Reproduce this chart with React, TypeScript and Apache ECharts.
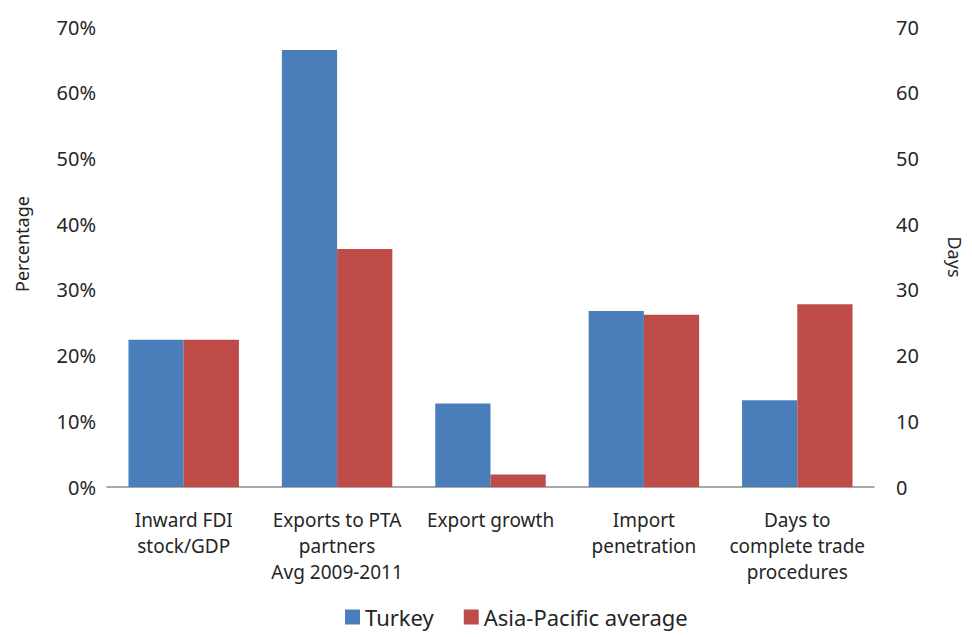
import React, { useEffect, useRef } from "react";
import * as echarts from "echarts";

const categories = [
  "Inward FDI\nstock/GDP",
  "Exports to PTA\npartners\nAvg 2009-2011",
  "Export growth",
  "Import\npenetration",
  "Days to\ncomplete trade\nprocedures",
];
const turkey = [22.4, 66.5, 12.7, 26.8, 13.2];
const asiaPacific = [22.4, 36.2, 1.9, 26.2, 27.8];
const leftTicks = [0, 10, 20, 30, 40, 50, 60, 70];

const FONT = "'Noto Sans', 'DejaVu Sans', sans-serif";
const TXT = "#262626";

export default function App() {
  const ref = useRef<HTMLDivElement>(null);
  useEffect(() => {
    document.body.style.margin = "0";
    const chart = echarts.init(ref.current!, null, { renderer: "svg" });
    chart.setOption({
      animation: false,
      textStyle: { fontFamily: FONT, color: TXT },
      grid: { left: 107, right: 89, top: 27, bottom: 150 },
      graphic: [
        {
          type: "text",
          x: 13,
          y: 244,
          rotation: Math.PI / 2,
          style: {
            text: "Percentage",
            fontSize: 18,
            fontFamily: FONT,
            fill: TXT,
            align: "center",
            verticalAlign: "top",
          },
        },
      ],
      legend: {
        left: 345,
        top: 606,
        padding: 0,
        itemWidth: 15,
        itemHeight: 15,
        itemGap: 30,
        icon: "rect",
        textStyle: { fontSize: 22, color: TXT, fontFamily: FONT },
        data: ["Turkey", "Asia-Pacific average"],
      },
      xAxis: {
        type: "category",
        data: categories,
        axisLine: { lineStyle: { color: "#8c8c8c", width: 1.5 } },
        axisTick: { show: false },
        axisLabel: {
          interval: 0,
          fontSize: 19,
          lineHeight: 26,
          color: TXT,
          margin: 20,
          fontFamily: FONT,
        },
      },
      yAxis: [
        {
          type: "value",
          min: 0,
          max: 70,
          interval: 10,
          axisLine: { show: false },
          axisTick: { show: false },
          splitLine: { show: false },
          axisLabel: {
            fontSize: 20,
            color: TXT,
            margin: 11,
            fontFamily: FONT,
            formatter: (v: number) => (leftTicks.includes(v) ? v + "%" : ""),
          },
        },
        {
          type: "value",
          min: 0,
          max: 70,
          interval: 10,
          position: "right",
          name: "Days",
          nameLocation: "middle",
          nameGap: 72,
          nameRotate: -90,
          nameTextStyle: { fontSize: 18, color: TXT, fontFamily: FONT },
          axisLine: { show: false },
          axisTick: { show: false },
          splitLine: { show: false },
          axisLabel: { fontSize: 20, color: TXT, margin: 22, fontFamily: FONT },
        },
      ],
      series: [
        {
          name: "Turkey",
          type: "bar",
          data: turkey,
          barGap: "0%",
          barCategoryGap: "28%",
          itemStyle: { color: "#4a7ebb" },
        },
        {
          name: "Asia-Pacific average",
          type: "bar",
          data: asiaPacific,
          itemStyle: { color: "#be4b48" },
        },
      ],
    });
    return () => chart.dispose();
  }, []);
  return <div ref={ref} style={{ width: 972, height: 637 }} />;
}
